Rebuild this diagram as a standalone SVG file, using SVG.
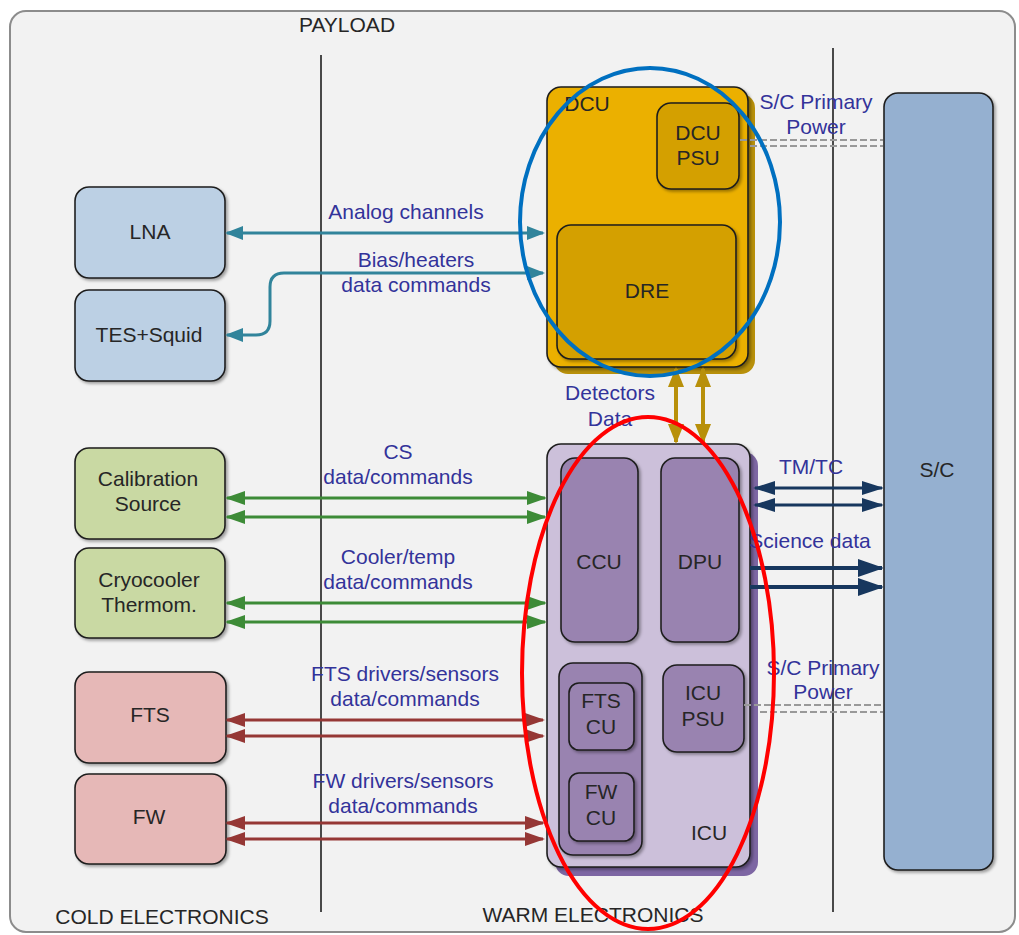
<svg xmlns="http://www.w3.org/2000/svg" width="1019" height="935" viewBox="0 0 1019 935">
  <style>
    text { font-family: "Liberation Sans", Arial, sans-serif; font-size: 21px; text-anchor: middle; }
    .dark { fill: #262626; }
    .lbl { fill: #33339a; }
    .box { stroke: #1e1e1e; stroke-width: 1.6; filter: url(#shadow); }
    .teal { stroke: #31849b; stroke-width: 3; fill: none; }
    .green { stroke: #3d8b37; stroke-width: 3; fill: none; }
    .brown { stroke: #953735; stroke-width: 3; fill: none; }
    .navy { stroke: #17375e; stroke-width: 3; fill: none; }
    .navyb { stroke: #17375e; stroke-width: 4; fill: none; }
    .gold { stroke: #b8900a; stroke-width: 4; fill: none; }
    .pwr { stroke: #999999; stroke-width: 2; stroke-dasharray: 7 3; fill: none; }
    .divider { stroke: #1e1e1e; stroke-width: 1.6; }
  </style>
  <defs>
    <filter id="shadow" x="-10%" y="-10%" width="130%" height="130%">
      <feDropShadow dx="2" dy="2" stdDeviation="1.5" flood-color="#000" flood-opacity="0.35"/>
    </filter>
    <marker id="aTeal" viewBox="0 0 18 14" refX="16" refY="7" markerWidth="18" markerHeight="14" markerUnits="userSpaceOnUse" orient="auto-start-reverse">
      <path d="M0,0 L18,7 L0,14 z" fill="#31849b"/>
    </marker>
    <marker id="aGreen" viewBox="0 0 20 14" refX="18" refY="7" markerWidth="20" markerHeight="14" markerUnits="userSpaceOnUse" orient="auto-start-reverse">
      <path d="M0,0 L20,7 L0,14 z" fill="#3d8b37"/>
    </marker>
    <marker id="aBrown" viewBox="0 0 20 14" refX="18" refY="7" markerWidth="20" markerHeight="14" markerUnits="userSpaceOnUse" orient="auto-start-reverse">
      <path d="M0,0 L20,7 L0,14 z" fill="#953735"/>
    </marker>
    <marker id="aNavy" viewBox="0 0 22 14" refX="20" refY="7" markerWidth="22" markerHeight="14" markerUnits="userSpaceOnUse" orient="auto-start-reverse">
      <path d="M0,0 L22,7 L0,14 z" fill="#17375e"/>
    </marker>
    <marker id="aNavyB" viewBox="0 0 26 18" refX="24" refY="9" markerWidth="26" markerHeight="18" markerUnits="userSpaceOnUse" orient="auto">
      <path d="M0,0 L26,9 L0,18 z" fill="#17375e"/>
    </marker>
    <marker id="aGold" viewBox="0 0 20 16" refX="18" refY="8" markerWidth="20" markerHeight="16" markerUnits="userSpaceOnUse" orient="auto-start-reverse">
      <path d="M0,0 L20,8 L0,16 z" fill="#b8900a"/>
    </marker>
  </defs>

  <!-- frame -->
  <rect x="10" y="11" width="1005" height="921" rx="16" fill="#f2f2f2" stroke="#8c8c8c" stroke-width="2"/>
  <text class="dark" x="347" y="32">PAYLOAD</text>
  <line class="divider" x1="321" y1="55" x2="321" y2="912"/>
  <line class="divider" x1="833" y1="48" x2="833" y2="912"/>
  <text class="dark" x="162" y="924">COLD ELECTRONICS</text>
  <text class="dark" x="593" y="922">WARM ELECTRONICS</text>

  <!-- cold electronics -->
  <g id="lna">
    <rect class="box" x="75" y="187" width="150" height="91" rx="14" fill="#bcd0e4"/>
    <text class="dark" x="150" y="239">LNA</text>
  </g>
  <g id="tes-squid">
    <rect class="box" x="75" y="290" width="150" height="91" rx="14" fill="#bcd0e4"/>
    <text class="dark" x="149" y="342">TES+Squid</text>
  </g>
  <g id="calibration-source">
    <rect class="box" x="75" y="448" width="150" height="91" rx="14" fill="#c9d9a3"/>
    <text class="dark" x="148" y="486">Calibration</text>
    <text class="dark" x="148" y="511">Source</text>
  </g>
  <g id="cryocooler">
    <rect class="box" x="75" y="548" width="150" height="90" rx="14" fill="#c9d9a3"/>
    <text class="dark" x="149" y="587">Cryocooler</text>
    <text class="dark" x="149" y="612">Thermom.</text>
  </g>
  <g id="fts">
    <rect class="box" x="75" y="672" width="151" height="91" rx="14" fill="#e6b8b7"/>
    <text class="dark" x="150" y="722">FTS</text>
  </g>
  <g id="fw">
    <rect class="box" x="75" y="774" width="151" height="90" rx="14" fill="#e6b8b7"/>
    <text class="dark" x="149" y="824">FW</text>
  </g>

  <!-- DCU -->
  <g id="dcu">
    <rect x="554" y="94" width="201" height="280" rx="14" fill="#b8900a"/>
    <rect class="box" x="547" y="87" width="201" height="280" rx="14" fill="#ebb000"/>
    <text class="dark" x="587" y="111">DCU</text>
    <g id="dcu-psu">
      <rect class="box" x="657" y="103" width="82" height="86" rx="14" fill="#d4a000"/>
      <text class="dark" x="698" y="140">DCU</text>
      <text class="dark" x="698" y="165">PSU</text>
    </g>
    <g id="dre">
      <rect class="box" x="557" y="225" width="179" height="134" rx="14" fill="#d4a000"/>
      <text class="dark" x="647" y="298">DRE</text>
    </g>
  </g>

  <!-- ICU -->
  <g id="icu">
    <rect x="555" y="452" width="203" height="424" rx="14" fill="#7d66a3"/>
    <rect class="box" x="547" y="444" width="203" height="423" rx="14" fill="#ccc0da"/>
    <text class="dark" x="709" y="840">ICU</text>
    <g id="ccu">
      <rect class="box" x="561" y="458" width="77" height="184" rx="14" fill="#9983b0"/>
      <text class="dark" x="599" y="569">CCU</text>
    </g>
    <g id="dpu">
      <rect class="box" x="661" y="458" width="78" height="184" rx="14" fill="#9983b0"/>
      <text class="dark" x="700" y="569">DPU</text>
    </g>
    <g id="mech-cu">
      <rect class="box" x="559" y="663" width="83" height="192" rx="14" fill="#9983b0"/>
      <g id="fts-cu">
        <rect class="box" x="569" y="683" width="65" height="67" rx="10" fill="#9983b0"/>
        <text class="dark" x="601" y="708">FTS</text>
        <text class="dark" x="601" y="734">CU</text>
      </g>
      <g id="fw-cu">
        <rect class="box" x="569" y="773" width="65" height="68" rx="10" fill="#9983b0"/>
        <text class="dark" x="601" y="799">FW</text>
        <text class="dark" x="601" y="825">CU</text>
      </g>
    </g>
    <g id="icu-psu">
      <rect class="box" x="663" y="665" width="81" height="87" rx="14" fill="#9983b0"/>
      <text class="dark" x="703" y="700">ICU</text>
      <text class="dark" x="703" y="726">PSU</text>
    </g>
  </g>

  <!-- spacecraft -->
  <g id="sc">
    <rect class="box" x="884" y="93" width="109" height="777" rx="14" fill="#95b0d0"/>
    <text class="dark" x="937" y="477">S/C</text>
  </g>

  <!-- connectors -->
  <g id="connectors">
    <path class="teal" d="M543 233 H227" marker-start="url(#aTeal)" marker-end="url(#aTeal)"/>
    <path class="teal" d="M543 273 H284 Q270 273 270 287 V321 Q270 335 256 335 H227" marker-start="url(#aTeal)" marker-end="url(#aTeal)"/>

    <path class="gold" d="M676 369 V442" marker-start="url(#aGold)" marker-end="url(#aGold)"/>
    <path class="gold" d="M703 369 V442" marker-start="url(#aGold)" marker-end="url(#aGold)"/>

    <path class="green" d="M545 498 H227" marker-start="url(#aGreen)" marker-end="url(#aGreen)"/>
    <path class="green" d="M545 517 H227" marker-start="url(#aGreen)" marker-end="url(#aGreen)"/>
    <path class="green" d="M545 603 H227" marker-start="url(#aGreen)" marker-end="url(#aGreen)"/>
    <path class="green" d="M545 622 H227" marker-start="url(#aGreen)" marker-end="url(#aGreen)"/>

    <path class="brown" d="M543 720 H227" marker-start="url(#aBrown)" marker-end="url(#aBrown)"/>
    <path class="brown" d="M543 736 H227" marker-start="url(#aBrown)" marker-end="url(#aBrown)"/>
    <path class="brown" d="M543 823 H227" marker-start="url(#aBrown)" marker-end="url(#aBrown)"/>
    <path class="brown" d="M543 839 H227" marker-start="url(#aBrown)" marker-end="url(#aBrown)"/>

    <path class="navy" d="M882 488 H755" marker-start="url(#aNavy)" marker-end="url(#aNavy)"/>
    <path class="navy" d="M882 505 H755" marker-start="url(#aNavy)" marker-end="url(#aNavy)"/>
    <path class="navyb" d="M750 568 H882" marker-end="url(#aNavyB)"/>
    <path class="navyb" d="M750 587 H882" marker-end="url(#aNavyB)"/>

    <path class="pwr" d="M740 140 H883"/>
    <path class="pwr" d="M750 146 H883"/>
    <path class="pwr" d="M744 705 H883"/>
    <path class="pwr" d="M760 712 H883"/>

    <text class="lbl" x="406" y="219">Analog channels</text>
    <text class="lbl" x="416" y="267">Bias/heaters</text>
    <text class="lbl" x="416" y="292">data commands</text>
    <text class="lbl" x="610" y="400">Detectors</text>
    <text class="lbl" x="610" y="426">Data</text>
    <text class="lbl" x="398" y="459">CS</text>
    <text class="lbl" x="398" y="484">data/commands</text>
    <text class="lbl" x="398" y="564">Cooler/temp</text>
    <text class="lbl" x="398" y="589">data/commands</text>
    <text class="lbl" x="405" y="681">FTS drivers/sensors</text>
    <text class="lbl" x="405" y="706">data/commands</text>
    <text class="lbl" x="403" y="788">FW drivers/sensors</text>
    <text class="lbl" x="403" y="813">data/commands</text>
    <text class="lbl" x="811" y="474">TM/TC</text>
    <text class="lbl" x="810" y="548">Science data</text>
    <text class="lbl" x="816" y="109">S/C Primary</text>
    <text class="lbl" x="816" y="134">Power</text>
    <text class="lbl" x="823" y="675">S/C Primary</text>
    <text class="lbl" x="823" y="699">Power</text>
  </g>

  <!-- highlight outlines -->
  <ellipse cx="650" cy="222" rx="130" ry="154" fill="none" stroke="#0070c0" stroke-width="4"/>
  <ellipse cx="648" cy="673" rx="126" ry="256" fill="none" stroke="#ff0000" stroke-width="4"/>
</svg>
